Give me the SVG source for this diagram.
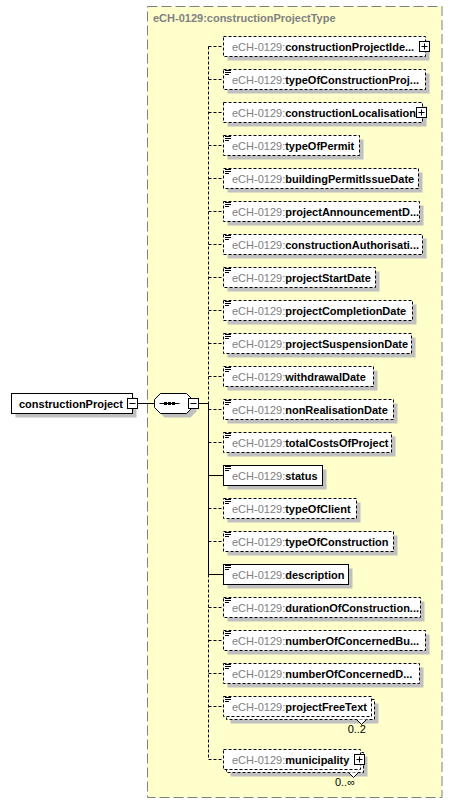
<svg xmlns="http://www.w3.org/2000/svg" width="453" height="805" viewBox="0 0 453 805">
<style>
text{font-family:"Liberation Sans",Arial,sans-serif;font-size:11px}
.bg{fill:#ffffcc;stroke:#808080;stroke-dasharray:10,4}
.sh{fill:#c0c0c0}
.opt{fill:#fff;stroke:#000;stroke-dasharray:3,2}
.req{fill:#fff;stroke:#000}
.pre{fill:#808080}
.nm{font-weight:bold;fill:#000}
.c{stroke:#000;fill:none}
.cd{stroke:#000;fill:none;stroke-dasharray:3,2}
.ic{fill:#fff;stroke:#000}
.title{font-weight:bold;fill:#808080}
.mul{fill:#000}
</style>
<defs>
<g id="doc"><path d="M225,0.5h6M225,2.5h6M225,4.5h4" stroke="#000" fill="none"/></g>
<g id="plus"><rect x="-5" y="-5" width="10" height="10" class="ic"/><path d="M-3,0h6M0,-3v6" stroke="#000"/></g>
<g id="minus"><rect x="-5" y="-5" width="10" height="10" class="ic"/><path d="M-3,0h6" stroke="#000"/></g>
</defs>
<g id="typeBox">
<rect x="147.5" y="6.5" width="294.5" height="791" class="bg"/>
<text x="153" y="22" class="title">eCH-0129:constructionProjectType</text>
</g>
<g id="connectors">
<path d="M137.5,403.5H154.5M198.5,403.5H208.5M208.5,403.5V574.5" class="c"/>
<path d="M208.5,46.5V403.5M208.5,574.5V759.5" class="cd"/>
<path d="M208.5,46.5H223.5M208.5,79.5H223.5M208.5,112.5H223.5M208.5,145.5H223.5M208.5,178.5H223.5M208.5,211.5H223.5M208.5,244.5H223.5M208.5,277.5H223.5M208.5,310.5H223.5M208.5,343.5H223.5M208.5,376.5H223.5M208.5,409.5H223.5M208.5,442.5H223.5M208.5,508.5H223.5M208.5,541.5H223.5M208.5,607.5H223.5M208.5,640.5H223.5M208.5,673.5H223.5M208.5,706.5H223.5M208.5,759.5H223.5" class="cd"/>
<path d="M208.5,475.5H223.5M208.5,574.5H223.5" class="c"/>
</g>
<g id="constructionProject">
<rect x="15.5" y="397.5" width="121" height="20" class="sh"/>
<rect x="11.5" y="393.5" width="121" height="20" class="req"/>
<text x="19" y="407.5" class="nm">constructionProject</text>
<use href="#minus" x="132.5" y="403.5"/>
</g>
<g id="sequence">
<polygon points="164.5,397.5 190.5,397.5 196.5,403.5 196.5,411.5 190.5,417.5 164.5,417.5 158.5,411.5 158.5,403.5" class="sh"/>
<polygon points="160.5,393.5 186.5,393.5 192.5,399.5 192.5,407.5 186.5,413.5 160.5,413.5 154.5,407.5 154.5,399.5" fill="#fff" stroke="#000"/>
<path d="M159.5,403.5H179.5" stroke="#000"/>
<rect x="164" y="402" width="3" height="3" fill="#000"/>
<rect x="168" y="402" width="3" height="3" fill="#000"/>
<rect x="172" y="402" width="3" height="3" fill="#000"/>
<use href="#minus" x="193.5" y="403.5"/>
</g>
<g id="constructionProjectIdentification">
<rect x="227.5" y="40.5" width="202" height="20" class="sh"/>
<rect x="223.5" y="36.5" width="202" height="20" class="opt"/>
<text x="232" y="50.5"><tspan class="pre">eCH-0129:</tspan><tspan class="nm">constructionProjectIde...</tspan></text>
<use href="#plus" x="424.5" y="46.5"/>
</g>
<g id="typeOfConstructionProject">
<rect x="227.5" y="73.5" width="202" height="20" class="sh"/>
<rect x="223.5" y="69.5" width="202" height="20" class="opt"/>
<use href="#doc" y="70"/>
<text x="232" y="83.5"><tspan class="pre">eCH-0129:</tspan><tspan class="nm">typeOfConstructionProj...</tspan></text>
</g>
<g id="constructionLocalisation">
<rect x="227.5" y="106.5" width="199" height="20" class="sh"/>
<rect x="223.5" y="102.5" width="199" height="20" class="opt"/>
<text x="232" y="116.5"><tspan class="pre">eCH-0129:</tspan><tspan class="nm">constructionLocalisation</tspan></text>
<use href="#plus" x="421.5" y="112.5"/>
</g>
<g id="typeOfPermit">
<rect x="227.5" y="139.5" width="136" height="20" class="sh"/>
<rect x="223.5" y="135.5" width="136" height="20" class="opt"/>
<use href="#doc" y="136"/>
<text x="232" y="149.5"><tspan class="pre">eCH-0129:</tspan><tspan class="nm">typeOfPermit</tspan></text>
</g>
<g id="buildingPermitIssueDate">
<rect x="227.5" y="172.5" width="195" height="20" class="sh"/>
<rect x="223.5" y="168.5" width="195" height="20" class="opt"/>
<use href="#doc" y="169"/>
<text x="232" y="182.5"><tspan class="pre">eCH-0129:</tspan><tspan class="nm">buildingPermitIssueDate</tspan></text>
</g>
<g id="projectAnnouncementDate">
<rect x="227.5" y="205.5" width="196" height="20" class="sh"/>
<rect x="223.5" y="201.5" width="196" height="20" class="opt"/>
<use href="#doc" y="202"/>
<text x="232" y="215.5"><tspan class="pre">eCH-0129:</tspan><tspan class="nm">projectAnnouncementD...</tspan></text>
</g>
<g id="constructionAuthorisationDeniedDate">
<rect x="227.5" y="238.5" width="199" height="20" class="sh"/>
<rect x="223.5" y="234.5" width="199" height="20" class="opt"/>
<use href="#doc" y="235"/>
<text x="232" y="248.5"><tspan class="pre">eCH-0129:</tspan><tspan class="nm">constructionAuthorisati...</tspan></text>
</g>
<g id="projectStartDate">
<rect x="227.5" y="271.5" width="152" height="20" class="sh"/>
<rect x="223.5" y="267.5" width="152" height="20" class="opt"/>
<use href="#doc" y="268"/>
<text x="232" y="281.5"><tspan class="pre">eCH-0129:</tspan><tspan class="nm">projectStartDate</tspan></text>
</g>
<g id="projectCompletionDate">
<rect x="227.5" y="304.5" width="189" height="20" class="sh"/>
<rect x="223.5" y="300.5" width="189" height="20" class="opt"/>
<use href="#doc" y="301"/>
<text x="232" y="314.5"><tspan class="pre">eCH-0129:</tspan><tspan class="nm">projectCompletionDate</tspan></text>
</g>
<g id="projectSuspensionDate">
<rect x="227.5" y="337.5" width="188" height="20" class="sh"/>
<rect x="223.5" y="333.5" width="188" height="20" class="opt"/>
<use href="#doc" y="334"/>
<text x="232" y="347.5"><tspan class="pre">eCH-0129:</tspan><tspan class="nm">projectSuspensionDate</tspan></text>
</g>
<g id="withdrawalDate">
<rect x="227.5" y="370.5" width="150" height="20" class="sh"/>
<rect x="223.5" y="366.5" width="150" height="20" class="opt"/>
<use href="#doc" y="367"/>
<text x="232" y="380.5"><tspan class="pre">eCH-0129:</tspan><tspan class="nm">withdrawalDate</tspan></text>
</g>
<g id="nonRealisationDate">
<rect x="227.5" y="403.5" width="170" height="20" class="sh"/>
<rect x="223.5" y="399.5" width="170" height="20" class="opt"/>
<use href="#doc" y="400"/>
<text x="232" y="413.5"><tspan class="pre">eCH-0129:</tspan><tspan class="nm">nonRealisationDate</tspan></text>
</g>
<g id="totalCostsOfProject">
<rect x="227.5" y="436.5" width="168" height="20" class="sh"/>
<rect x="223.5" y="432.5" width="168" height="20" class="opt"/>
<use href="#doc" y="433"/>
<text x="232" y="446.5"><tspan class="pre">eCH-0129:</tspan><tspan class="nm">totalCostsOfProject</tspan></text>
</g>
<g id="status">
<rect x="227.5" y="469.5" width="99" height="20" class="sh"/>
<rect x="223.5" y="465.5" width="99" height="20" class="req"/>
<use href="#doc" y="466"/>
<text x="232" y="479.5"><tspan class="pre">eCH-0129:</tspan><tspan class="nm">status</tspan></text>
</g>
<g id="typeOfClient">
<rect x="227.5" y="502.5" width="133" height="20" class="sh"/>
<rect x="223.5" y="498.5" width="133" height="20" class="opt"/>
<use href="#doc" y="499"/>
<text x="232" y="512.5"><tspan class="pre">eCH-0129:</tspan><tspan class="nm">typeOfClient</tspan></text>
</g>
<g id="typeOfConstruction">
<rect x="227.5" y="535.5" width="170" height="20" class="sh"/>
<rect x="223.5" y="531.5" width="170" height="20" class="opt"/>
<use href="#doc" y="532"/>
<text x="232" y="545.5"><tspan class="pre">eCH-0129:</tspan><tspan class="nm">typeOfConstruction</tspan></text>
</g>
<g id="description">
<rect x="227.5" y="568.5" width="125" height="20" class="sh"/>
<rect x="223.5" y="564.5" width="125" height="20" class="req"/>
<use href="#doc" y="565"/>
<text x="232" y="578.5"><tspan class="pre">eCH-0129:</tspan><tspan class="nm">description</tspan></text>
</g>
<g id="durationOfConstructionPhase">
<rect x="227.5" y="601.5" width="197" height="20" class="sh"/>
<rect x="223.5" y="597.5" width="197" height="20" class="opt"/>
<use href="#doc" y="598"/>
<text x="232" y="611.5"><tspan class="pre">eCH-0129:</tspan><tspan class="nm">durationOfConstruction...</tspan></text>
</g>
<g id="numberOfConcernedBuildings">
<rect x="227.5" y="634.5" width="202" height="20" class="sh"/>
<rect x="223.5" y="630.5" width="202" height="20" class="opt"/>
<use href="#doc" y="631"/>
<text x="232" y="644.5"><tspan class="pre">eCH-0129:</tspan><tspan class="nm">numberOfConcernedBu...</tspan></text>
</g>
<g id="numberOfConcernedDwellings">
<rect x="227.5" y="667.5" width="196" height="20" class="sh"/>
<rect x="223.5" y="663.5" width="196" height="20" class="opt"/>
<use href="#doc" y="664"/>
<text x="232" y="677.5"><tspan class="pre">eCH-0129:</tspan><tspan class="nm">numberOfConcernedD...</tspan></text>
</g>
<g id="projectFreeText">
<rect x="230.5" y="703.5" width="148" height="20" class="sh"/>
<rect x="226.5" y="699.5" width="148" height="20" class="opt"/>
<rect x="223.5" y="696.5" width="148" height="20" class="opt"/>
<use href="#doc" y="697"/>
<text x="232" y="710.5"><tspan class="pre">eCH-0129:</tspan><tspan class="nm">projectFreeText</tspan></text>
<path d="M356.5,719.5L361.5,724.5L366.5,719.5" stroke="#000" fill="#fff"/>
<text x="366" y="733" text-anchor="end" class="mul">0..2</text>
</g>
<g id="municipality">
<rect x="230.5" y="756.5" width="137" height="20" class="sh"/>
<rect x="226.5" y="752.5" width="137" height="20" class="opt"/>
<rect x="223.5" y="749.5" width="137" height="20" class="opt"/>
<text x="232" y="763.5"><tspan class="pre">eCH-0129:</tspan><tspan class="nm">municipality</tspan></text>
<use href="#plus" x="359.5" y="759.5"/>
<path d="M348.5,772.5L353.5,777.5L358.5,772.5" stroke="#000" fill="#fff"/>
<text x="355" y="786" text-anchor="end" class="mul">0..∞</text>
</g>
</svg>
